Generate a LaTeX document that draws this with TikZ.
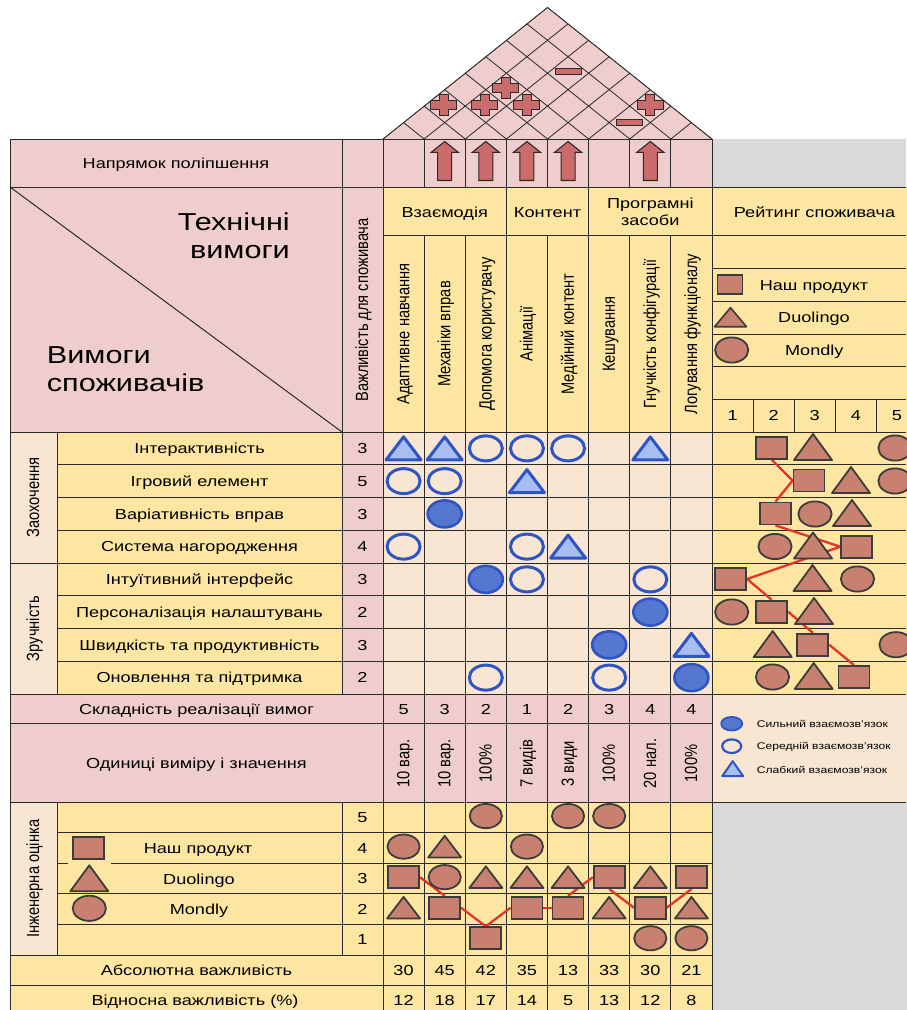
\documentclass[tikz,border=0pt]{standalone}
\usepackage{fontspec}
\setmainfont{Liberation Sans}[FakeStretch=1.25]
\newfontfamily\rotfont{Liberation Sans}
\usepackage{graphicx}
\usetikzlibrary{shapes.geometric}
\definecolor{qpink}{HTML}{EFCDCD}
\definecolor{qyellow}{HTML}{FCE6A2}
\definecolor{qpeach}{HTML}{F8E6D2}
\definecolor{qgray}{HTML}{D9D9D9}
\definecolor{qline}{HTML}{2A2A2A}
\definecolor{relblue}{HTML}{2F55C4}
\definecolor{strongfill}{HTML}{5577D0}
\definecolor{weakfill}{HTML}{A8BDF0}
\definecolor{shapefill}{HTML}{C88070}
\definecolor{shapeline}{HTML}{3C3C3C}
\definecolor{linkred}{HTML}{E5322A}
\definecolor{markfill}{HTML}{CC6B6B}
\newcommand{\fsN}{\fontsize{14.5pt}{16.7pt}\selectfont}
\newcommand{\fsBig}{\fontsize{24.5pt}{28pt}\selectfont}
\newcommand{\fsSm}{\fontsize{9.7pt}{11pt}\selectfont}
\newcommand{\rottext}[1]{\rotfont\fontsize{14.7pt}{17pt}\selectfont\scalebox{1}[1.2]{#1}}
\pgfdeclarelayer{back}
\pgfdeclarelayer{mid}
\pgfsetlayers{back,mid,main}
\begin{document}
\begin{tikzpicture}[x=1pt,y=-1pt,
 gridline/.style={draw=qline,line width=1pt},
 roofline/.style={draw=qline,line width=0.8pt},
 txt/.style={font=\fsN,inner sep=0pt,anchor=base},
 rtxt/.style={rotate=90,inner sep=0pt,anchor=base},
 smtxt/.style={font=\fsSm,inner sep=0pt,anchor=base west},
 linkline/.style={draw=linkred,line width=2.3pt},
 sqn/.style={rectangle,draw=shapeline,fill=shapefill,line width=1.8pt,minimum width=31pt,minimum height=22pt,inner sep=0pt},
 sqsmall/.style={sqn,minimum width=25pt,minimum height=19pt},
 weak/.pic={\draw[draw=relblue,fill=weakfill,line width=3pt,line join=round] (-17.5,11.5) -- (17.5,11.5) -- (0,-11.5) -- cycle;},
 medium/.pic={\draw[draw=relblue,line width=3pt] (0,0) ellipse [x radius=16.5pt, y radius=12.5pt];},
 strong/.pic={\draw[draw=relblue,fill=strongfill,line width=2.6pt] (0,0) ellipse [x radius=17pt, y radius=13.5pt];},
 legweak/.pic={\draw[draw=relblue,fill=weakfill,line width=2pt,line join=round] (-10.5,7.5) -- (10.5,7.5) -- (0,-7.5) -- cycle;},
 legmedium/.pic={\draw[draw=relblue,line width=2.2pt] (0,0) ellipse [x radius=9.5pt, y radius=6.8pt];},
 legstrong/.pic={\draw[draw=relblue,fill=strongfill,line width=1.8pt] (0,0) ellipse [x radius=10.5pt, y radius=6.8pt];},
 bcirc/.pic={\draw[draw=shapeline,fill=shapefill,line width=1.8pt] (0,0) ellipse [x radius=16.6pt, y radius=12.6pt];},
 bcirce/.pic={\draw[draw=shapeline,fill=shapefill,line width=1.8pt] (0,0) ellipse [x radius=16.1pt, y radius=12.1pt];},
 btri/.pic={\draw[draw=shapeline,fill=shapefill,line width=1.8pt,line join=round] (-19,13) -- (19,13) -- (0,-13) -- cycle;},
 btrie/.pic={\draw[draw=shapeline,fill=shapefill,line width=1.8pt,line join=round] (-16.5,10.8) -- (16.5,10.8) -- (0,-10.8) -- cycle;},
 btrileg/.pic={\draw[draw=shapeline,fill=shapefill,line width=1.6pt,line join=round] (-16,9.5) -- (16,9.5) -- (0,-9.5) -- cycle;},
 plusmark/.pic={\draw[draw=qline,fill=markfill,line width=0.9pt] (-4.6,-10.5) -- (4.6,-10.5) -- (4.6,-4.6) -- (13,-4.6) -- (13,4.6) -- (4.6,4.6) -- (4.6,10.5) -- (-4.6,10.5) -- (-4.6,4.6) -- (-13,4.6) -- (-13,-4.6) -- (-4.6,-4.6) -- cycle;},
 minusmark/.pic={\draw[draw=qline,fill=markfill,line width=0.9pt] (-13,-3.2) rectangle (13,3.2);},
 uparrow/.pic={\draw[draw=qline,fill=markfill,line width=1.1pt,line join=miter] (0,-19.5) -- (13.5,-8.7) -- (7,-8.7) -- (7,19.5) -- (-7,19.5) -- (-7,-8.7) -- (-13.5,-8.7) -- cycle;},
]
\useasboundingbox (0,0) rectangle (906,1010);

\begin{pgfonlayer}{back}
 \fill[white] (0,0) rectangle (906,1010);
 \fill[qpink] (383,139) -- (547.5,7.4) -- (712,139) -- cycle;
 \fill[qpink] (10,139) rectangle (712,187);
 \fill[qgray] (712,139) rectangle (906,187);
 \fill[qpink] (10,187) rectangle (383,432);
 \fill[qyellow] (383,187) rectangle (917,432);
 \fill[qpeach] (10,432) rectangle (57,694);
 \fill[qyellow] (57,432) rectangle (342,694);
 \fill[qpink] (342,432) rectangle (383,694);
 \fill[qpeach] (383,432) rectangle (712,694);
 \fill[qyellow] (712,432) rectangle (917,694);
 \fill[qpink] (10,694) rectangle (712,802.3);
 \fill[qpeach] (712,694) rectangle (917,802.3);
 \fill[qgray] (712,802.3) rectangle (917,1015);
 \fill[qpeach] (10,802.3) rectangle (57,955);
 \fill[qyellow] (57,802.3) rectangle (712,955);
 \fill[qyellow] (10,955) rectangle (712,1015);
 % roof grid
 \begin{scope}
  \clip (383,139) -- (547.5,7.4) -- (712,139) -- cycle;
  \foreach \i in {0,...,8} {
   \draw[roofline] ({383+41.125*\i},139) -- ++(330,-264);
   \draw[roofline] ({383+41.125*\i},139) -- ++(-330,-264);
  }
 \end{scope}
 \draw[roofline] (383,139) -- (547.5,7.4) -- (712,139);
 % horizontal lines
 \draw[gridline] (10,139) -- (712,139);
 \draw[gridline] (10,187) -- (906,187);
 \draw[gridline] (383,235) -- (906,235);
 \foreach \y in {268.3,301.7,334,366.7,399.3} \draw[gridline] (712,\y) -- (906,\y);
 \draw[gridline] (10,432) -- (906,432);
 \foreach \i in {1,...,7} \draw[gridline] (57,{432+32.75*\i}) -- (906,{432+32.75*\i});
 \draw[gridline] (10,563) -- (57,563);
 \draw[gridline] (10,694) -- (906,694);
 \draw[gridline] (10,723.3) -- (712,723.3);
 \draw[gridline] (10,802.3) -- (906,802.3);
 \foreach \i in {1,...,4} \draw[gridline] (57,{802.3+30.54*\i}) -- (712,{802.3+30.54*\i});
 \draw[gridline] (10,955) -- (712,955);
 \draw[gridline] (10,985) -- (712,985);
 % vertical lines
 \draw[gridline] (10,139) -- (10,1012);
 \draw[gridline] (57,432) -- (57,694);
 \draw[gridline] (57,802.3) -- (57,955);
 \draw[gridline] (342,139) -- (342,694);
 \draw[gridline] (342,802.3) -- (342,955);
 \draw[gridline] (383,139) -- (383,1012);
 \foreach \k in {1,2,4,6,7} {
  \draw[gridline] ({383+41.125*\k},139) -- ({383+41.125*\k},187);
  \draw[gridline] ({383+41.125*\k},235) -- ({383+41.125*\k},1012);
 }
 \foreach \k in {3,5} \draw[gridline] ({383+41.125*\k},139) -- ({383+41.125*\k},1012);
 \draw[gridline] (712,139) -- (712,1012);
 \foreach \k in {1,...,4} \draw[gridline] ({712+41.1*\k},399.3) -- ({712+41.1*\k},432);
 \draw[gridline] (10,187) -- (342,432);
\end{pgfonlayer}

% roof marks
\pic at (443.8,104.8) {plusmark};
\pic at (484.6,105) {plusmark};
\pic at (526.8,104.8) {plusmark};
\pic at (505.6,87.6) {plusmark};
\pic at (650,104.8) {plusmark};
\pic at (568.3,71.5) {minusmark};
\pic at (629.3,122.4) {minusmark};

% improvement arrows
\foreach \k in {2,3,4,5,7} \pic at ({383+41.125*(\k-0.5)},161) {uparrow};

% header texts
\node[txt] (hdir) at (176,168.3) {Напрямок поліпшення};
\node[font=\fsBig,inner sep=0pt,anchor=base east] (ht1) at (290,230) {Технічні};
\node[font=\fsBig,inner sep=0pt,anchor=base east] (ht2) at (290,258.3) {вимоги};
\node[font=\fsBig,inner sep=0pt,anchor=base west] (hv1) at (46.7,363.3) {Вимоги};
\node[font=\fsBig,inner sep=0pt,anchor=base west] (hv2) at (46.7,391.7) {споживачів};
\node[rtxt] (himp) at (368,310) {\rottext{Важливість для споживача}};

\node[txt] (g1) at (444.7,217.7) {Взаємодія};
\node[txt] (g2) at (547.5,217.7) {Контент};
\node[txt] (g3a) at (650.3,208.3) {Програмні};
\node[txt] (g3b) at (650.3,225) {засоби};

\foreach \k/\t in {1/Адаптивне навчання,2/Механіки вправ,3/Допомога користувачу,4/Анімації,5/Медійний контент,6/Кешування,7/Гнучкість конфігурації,8/Логування функціоналу}
 \node[rtxt] (cn\k) at ({383+41.125*(\k-0.5)+5.8},334) {\rottext{\t}};

% rating header
\node[txt] (rt) at (814.5,217.3) {Рейтинг споживача};
\node[sqsmall] (lsq) at (730,284.5) {};
\node[txt] (lt1) at (814,290) {Наш продукт};
\pic at (730.5,317.2) {btrileg};
\node[txt] (lt2) at (814,322.5) {Duolingo};
\pic at (731.7,350) {bcirc};
\node[txt] (lt3) at (814.3,355.3) {Mondly};
\foreach \k in {1,...,5} \node[txt] (rn\k) at ({712+41.1*(\k-0.5)},420.7) {\k};

% group labels
\node[rtxt] (gz) at (39,497.4) {\rottext{Заохочення}};
\node[rtxt] (gzr) at (39,628.5) {\rottext{Зручність}};

% requirements
\foreach \i/\t/\v in {1/Інтерактивність/3,2/Ігровий елемент/5,3/Варіативність вправ/3,4/Система нагородження/4,5/Інтуїтивний інтерфейс/3,6/Персоналізація налаштувань/2,7/Швидкість та продуктивність/3,8/Оновлення та підтримка/2} {
 \node[txt] (req\i) at (199.5,{432+32.75*(\i-0.5)+5.2}) {\t};
 \node[txt] (imp\i) at (362.5,{432+32.75*(\i-0.5)+5.2}) {\v};
}

% relationship matrix
\foreach \c/\r in {1/1,2/1,7/1,4/2,5/4,8/7}
 \pic at ({383+41.125*(\c-0.5)},{432+32.75*(\r-0.5)}) {weak};
\foreach \c/\r in {3/1,4/1,5/1,1/2,2/2,1/4,4/4,4/5,7/5,3/8,6/8}
 \pic at ({383+41.125*(\c-0.5)},{432+32.75*(\r-0.5)}) {medium};
\foreach \c/\r in {2/3,3/5,7/6,6/7,8/8}
 \pic at ({383+41.125*(\c-0.5)},{432+32.75*(\r-0.5)}) {strong};

% customer rating
\node[sqn] (r1) at (771.7,447.7) {};
\pic at (813,447) {btri};
\pic at (895,448) {bcirc};
\node[sqn] (r2) at (809,480.5) {};
\pic at (851,480) {btri};
\pic at (895,481) {bcirc};
\node[sqn] (r3) at (775.5,513.5) {};
\pic at (815,514) {bcirc};
\pic at (852,513) {btri};
\pic at (775,546.5) {bcirc};
\pic at (813,545.5) {btri};
\node[sqn] (r4) at (856.7,546.7) {};
\node[sqn] (r5) at (730.7,579) {};
\pic at (812.5,578) {btri};
\pic at (857.5,579) {bcirc};
\pic at (731.7,612) {bcirc};
\node[sqn] (r6) at (771.7,611.7) {};
\pic at (814,611) {btri};
\pic at (772.7,644) {btri};
\node[sqn] (r7) at (812.8,644.7) {};
\pic at (896,644.7) {bcirc};
\pic at (772.5,677) {bcirc};
\pic at (813.7,676) {btri};
\node[sqn] (r8) at (854,677) {};

% bottom rows
\node[txt] (diffl) at (196.5,714.2) {Складність реалізації вимог};
\node[txt] (unitl) at (196.5,768.3) {Одиниці виміру і значення};
\foreach \k/\v in {1/5,2/3,3/2,4/1,5/2,6/3,7/4,8/4}
 \node[txt] (dv\k) at ({383+41.125*(\k-0.5)},714.5) {\v};
\foreach \k/\t in {1/10 вар.,2/10 вар.,3/100\%,4/7 видів,5/3 види,6/100\%,7/20 нал.,8/100\%}
 \node[rtxt] (un\k) at ({383+41.125*(\k-0.5)+5.8},763.5) {\rottext{\t}};

% legend
\pic at (731.7,723.7) {legstrong};
\node[smtxt] (leg1) at (756.7,727) {Сильний взаємозв’язок};
\pic at (731.7,746.2) {legmedium};
\node[smtxt] (leg2) at (756.7,749.5) {Середній взаємозв’язок};
\pic at (732.7,768.7) {legweak};
\node[smtxt] (leg3) at (756.7,773.5) {Слабкий взаємозв’язок};

% engineering evaluation
\node[rtxt] (ge) at (39,878.7) {\rottext{Інженерна оцінка}};
\foreach \i/\v in {0/5,1/4,2/3,3/2,4/1}
 \node[txt] (en\v) at (362.5,{802.3+30.54*(\i+0.5)+5.2}) {\v};
\node[sqn] (esq) at (88.3,848.3) {};
\node[txt] (et1) at (198,853.3) {Наш продукт};
\fill[qyellow] (68,861.5) rectangle (111,893);
\pic at (89.3,878.3) {btri};
\node[txt] (et2) at (199,884) {Duolingo};
\pic at (89.3,908.3) {bcirc};
\node[txt] (et3) at (199,914) {Mondly};

\foreach \k/\v in {1/3,2/2,3/1,4/2,5/2,6/3,7/2,8/3}
 \node[sqn] (e\k) at ({383+41.125*(\k-0.5)},{802.3+30.54*(5.5-\v)-1.5}) {};
\foreach \k/\v in {1/2,2/4,3/3,4/3,5/3,6/2,7/3,8/2}
 \pic at ({383+41.125*(\k-0.5)},{802.3+30.54*(5.5-\v)-1.5}) {btrie};
\foreach \k/\v in {1/4,2/3,3/5,4/4,5/5,6/5,7/1,8/1}
 \pic at ({383+41.125*(\k-0.5)},{802.3+30.54*(5.5-\v)-1.5}) {bcirce};

\node[txt] (absl) at (196.5,975.8) {Абсолютна важливість};
\node[txt] (rell) at (195,1005.8) {Відносна важливість (\%)};
\foreach \k/\a/\r in {1/30/12,2/45/18,3/42/17,4/35/14,5/13/5,6/33/13,7/30/12,8/21/8} {
 \node[txt] (av\k) at ({383+41.125*(\k-0.5)},975.8) {\a};
 \node[txt] (rv\k) at ({383+41.125*(\k-0.5)},1005.8) {\r};
}

% connecting lines
\begin{pgfonlayer}{mid}
 \draw[linkline] (r1.south) -- (r2.west) -- (r3.north);
 \draw[linkline] (r3.south) -- (r4.west) -- (r5.east) -- (r6.north);
 \draw[linkline] (r6.east) -- (r7.north);
 \draw[linkline] (r7.east) -- (r8.north);
 \draw[linkline] (e1.east) -- (e2.north);
 \draw[linkline] (e2.east) -- (e3.north) -- (e4.west);
 \draw[linkline] (e4.east) -- (e5.west);
 \draw[linkline] (e5.north) -- (e6.west);
 \draw[linkline] (e6.south) -- (e7.west);
 \draw[linkline] (e7.east) -- (e8.south);
\end{pgfonlayer}
\end{tikzpicture}
\end{document}
